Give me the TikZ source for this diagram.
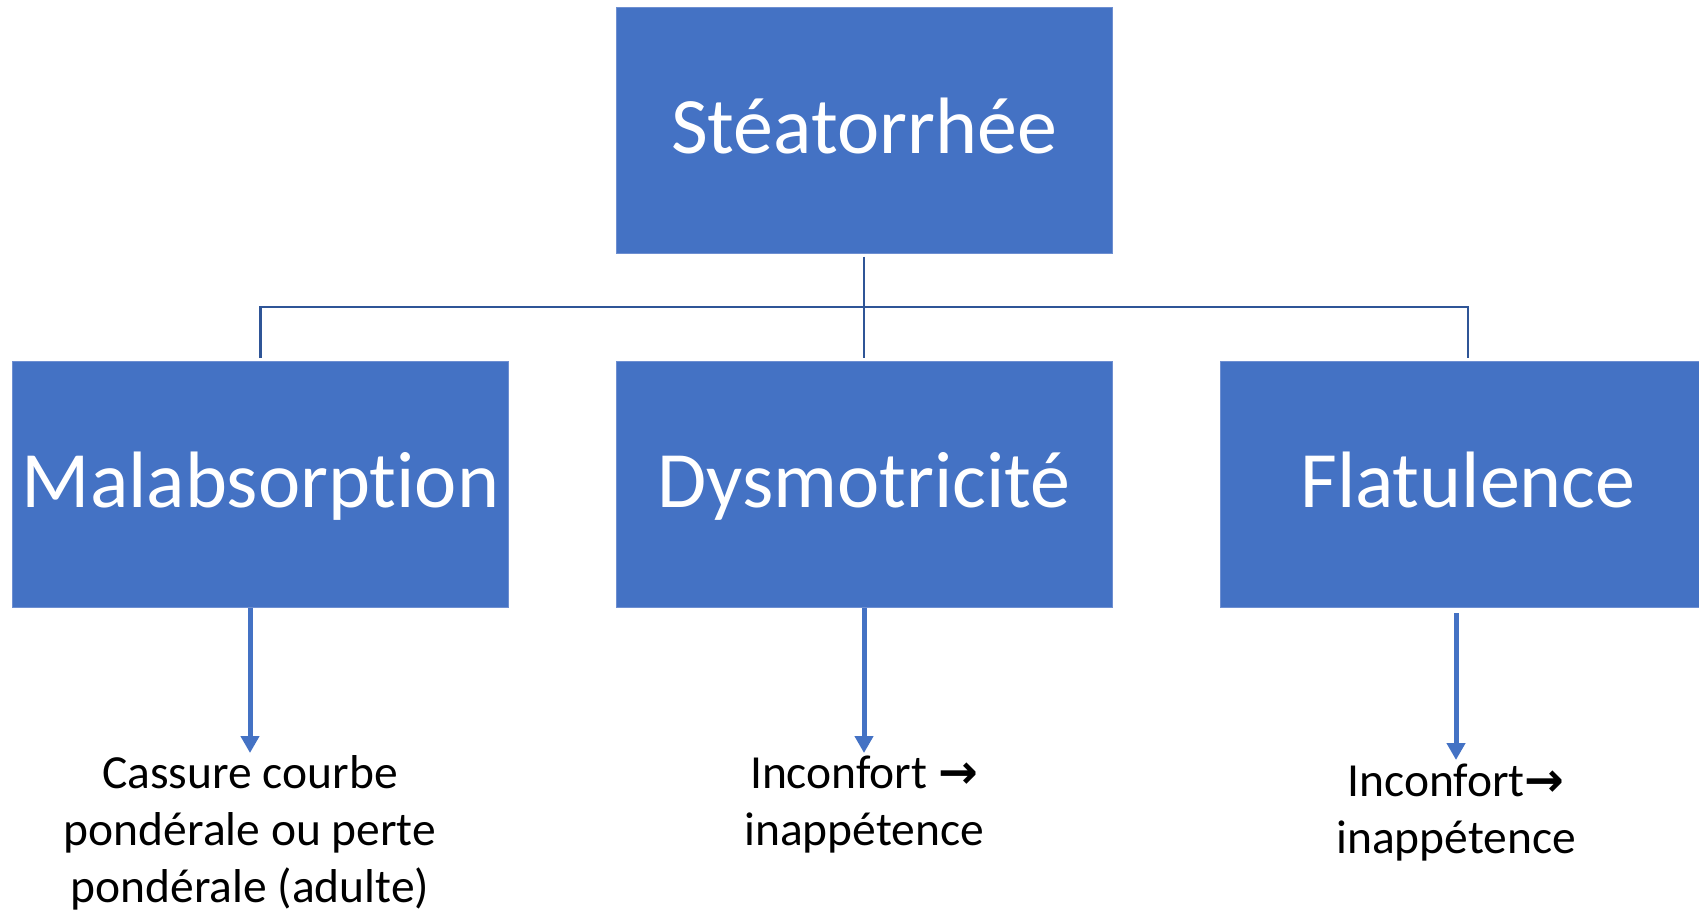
\documentclass[tikz,border=0pt]{standalone}
\usepackage{fontspec}
\setmainfont{Carlito}[Ligatures=NoCommon]
\newfontfamily\arrowfont{DejaVu Sans}
\usetikzlibrary{arrows.meta}
\definecolor{boxblue}{HTML}{4472C4}
\definecolor{edgeblue}{HTML}{6E8FD1}
\definecolor{linkblue}{HTML}{2F5597}
\begin{document}
\begin{tikzpicture}[x=1pt,y=-1pt,
  box/.style={rectangle, fill=boxblue, draw=edgeblue, line width=1pt,
    minimum width=496pt, minimum height=246pt, inner sep=0pt, text=white,
    font=\fontsize{80}{96}\selectfont, text height=60pt, text depth=14pt},
  conn/.style={draw=linkblue, line width=2.7pt},
  arr/.style={draw=boxblue, line width=5pt, -{Triangle[width=18pt,length=17pt]}},
  note/.style={align=center, font=\fontsize{47.5}{57}\selectfont, inner sep=0pt, text=black, anchor=base}]
\useasboundingbox (0,0) rectangle (1699,913);
\clip (0,0) rectangle (1699,913);
\node[box] (top) at (864,130) {Stéatorrhée};
\node[box] (L) at (260.5,484.5) {Malabsorption};
\node[box] (M) at (864,484.5) {Dysmotricité};
\node[box] (R) at (1468,484.5) {Flatulence};
\coordinate (hub) at (864,307);
\draw[conn] ([yshift=-3pt]top.south) -- ([yshift=3pt]M.north);
\draw[conn] ([yshift=3pt]L.north) |- (hub) -| ([yshift=3pt]R.north);
\coordinate (tipL) at (250,753);
\coordinate (tipM) at (864,753);
\coordinate (tipR) at (1456,760);
\draw[arr] ([xshift=-10.5pt]L.south) -- (tipL);
\draw[arr] (M.south) -- (tipM);
\draw[arr] ([xshift=-12pt,yshift=-5pt]R.south) -- (tipR);
\node[note] (nL) at (250,902) {Cassure courbe\\pondérale ou perte\\pondérale (adulte)};
\node[note] (nM) at (864,845) {Inconfort {\arrowfont\bfseries →}\\inappétence};
\node[note] (nR) at (1456,853) {Inconfort{\arrowfont\bfseries →}\\inappétence};
\end{tikzpicture}
\end{document}
